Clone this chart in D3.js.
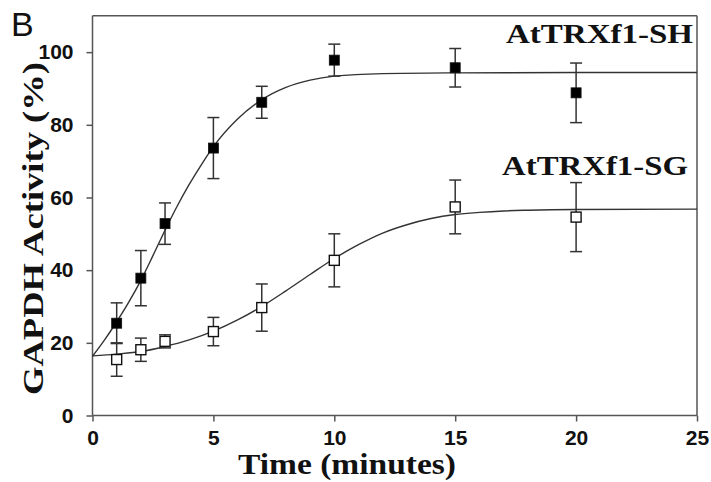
<!DOCTYPE html>
<html>
<head>
<meta charset="utf-8">
<script src="https://cdn.jsdelivr.net/npm/d3@7"></script>
<style>
  html, body { margin: 0; padding: 0; background: #fff; }
  svg { display: block; }
</style>
</head>
<body>
<div id="chart"></div>
<script>
// ---- Data ----
const times = [1, 2, 3, 5, 7, 10, 15, 20];
const shMean = [25.4, 37.8, 52.8, 73.6, 86.2, 97.8, 95.7, 88.8];
const shErr  = [5.6, 7.6, 5.7, 8.4, 4.4, 4.4, 5.3, 8.2];
const sgMean = [15.4, 18.1, 20.4, 23.1, 29.7, 42.7, 57.4, 54.6];
const sgErr  = [4.6, 3.2, 1.8, 3.9, 6.5, 7.3, 7.4, 9.5];

// fitted curves
const shCurveT = [0, 0.5, 1, 1.5, 2, 2.5, 3, 3.5, 4, 4.5, 5, 6, 7, 8, 9, 10, 12, 15, 20, 25];
const shCurveY = [16.3, 20.8, 25.8, 31.2, 37.2, 44, 51, 57.6, 63.6, 69, 74, 81.6, 86.9, 90.3, 92.3, 93.4, 94.1, 94.3, 94.4, 94.4];
const sgCurveT = [0, 1, 2, 3, 4, 5, 6, 7, 8, 9, 10, 11, 12, 13, 14, 15, 16, 17, 18, 20, 25];
const sgCurveY = [16.4, 16.9, 17.6, 19, 20.8, 23.2, 26.3, 30, 34.3, 38.8, 43.2, 47, 50.2, 52.5, 54.2, 55.3, 55.9, 56.3, 56.5, 56.7, 56.8];

const xTicks = [0, 5, 10, 15, 20, 25];
const yTicks = [0, 20, 40, 60, 80, 100];

const xTitle = "Time (minutes)";
const yTitle = "GAPDH Activity (%)";
const shLabel = "AtTRXf1-SH";
const sgLabel = "AtTRXf1-SG";
const panelLabel = "B";

// ---- Layout ----
const W = 711, H = 482;
const svg = d3.select("#chart").append("svg").attr("width", W).attr("height", H);

const x = d3.scaleLinear().domain([0, 25]).range([92.5, 697]);
const y = d3.scaleLinear().domain([0, 110]).range([415.5, 15.8]);

const axisColor = "#555";
const inkColor = "#111";

// frame top and right
svg.append("line").attr("x1", x(0)).attr("x2", x(25)).attr("y1", y(110)).attr("y2", y(110))
  .attr("stroke", axisColor).attr("stroke-width", 1.5);
svg.append("line").attr("x1", x(25)).attr("x2", x(25)).attr("y1", y(110)).attr("y2", y(0))
  .attr("stroke", axisColor).attr("stroke-width", 1.5);

// axes
const gx = svg.append("g").attr("transform", `translate(0,${y(0)})`)
  .call(d3.axisBottom(x).tickValues(xTicks).tickSize(6).tickPadding(9).tickSizeOuter(0));
const gy = svg.append("g").attr("transform", `translate(${x(0)},0)`)
  .call(d3.axisLeft(y).tickValues(yTicks).tickSize(6).tickPadding(13).tickSizeOuter(0));

[gx, gy].forEach(g => {
  g.select(".domain").attr("stroke", axisColor).attr("stroke-width", 1.5);
  g.selectAll(".tick line").attr("stroke", axisColor).attr("stroke-width", 1.5);
  g.selectAll(".tick text")
    .attr("fill", inkColor)
    .style("font-family", "'Liberation Sans', Arial, sans-serif")
    .style("font-weight", "bold")
    .style("font-size", "21px");
});
gy.select(".domain").attr("d", `M0,${y(0)}V${y(110)}`);
gx.select(".domain").attr("d", `M0,0H${x(25) - x(0)}`).attr("transform", `translate(${x(0)},0)`);

// curves
const line = d3.line().x(d => x(d[0])).y(d => y(d[1])).curve(d3.curveMonotoneX);
svg.append("path").datum(d3.zip(shCurveT, shCurveY)).attr("d", line)
  .attr("fill", "none").attr("stroke", "#333").attr("stroke-width", 1.4);
svg.append("path").datum(d3.zip(sgCurveT, sgCurveY)).attr("d", line)
  .attr("fill", "none").attr("stroke", "#333").attr("stroke-width", 1.4);

// error bars + markers
function drawSeries(means, errs, filled) {
  const data = times.map((t, i) => ({ t, m: means[i], e: errs[i] }));
  const g = svg.append("g");
  const cap = 6;
  data.forEach(d => {
    const cx = x(d.t);
    g.append("line").attr("x1", cx).attr("x2", cx).attr("y1", y(d.m + d.e)).attr("y2", y(d.m - d.e))
      .attr("stroke", "#333").attr("stroke-width", 1.5);
    g.append("line").attr("x1", cx - cap).attr("x2", cx + cap).attr("y1", y(d.m + d.e)).attr("y2", y(d.m + d.e))
      .attr("stroke", "#333").attr("stroke-width", 1.5);
    g.append("line").attr("x1", cx - cap).attr("x2", cx + cap).attr("y1", y(d.m - d.e)).attr("y2", y(d.m - d.e))
      .attr("stroke", "#333").attr("stroke-width", 1.5);
  });
  const s = 10;
  g.selectAll("rect").data(data).enter().append("rect")
    .attr("x", d => x(d.t) - s / 2).attr("y", d => y(d.m) - s / 2)
    .attr("width", s).attr("height", s)
    .attr("fill", filled ? "#000" : "#fff")
    .attr("stroke", "#111").attr("stroke-width", filled ? 0.8 : 1.4);
}
drawSeries(sgMean, sgErr, false);
drawSeries(shMean, shErr, true);

// series labels
const serif = "'Liberation Serif', 'Times New Roman', serif";
svg.append("text").text(shLabel).attr("x", 506).attr("y", 43)
  .attr("textLength", 187).attr("lengthAdjust", "spacingAndGlyphs")
  .style("font-family", serif).style("font-weight", "bold").style("font-size", "27px").attr("fill", inkColor);
svg.append("text").text(sgLabel).attr("x", 502).attr("y", 175)
  .attr("textLength", 186).attr("lengthAdjust", "spacingAndGlyphs")
  .style("font-family", serif).style("font-weight", "bold").style("font-size", "27px").attr("fill", inkColor);

// axis titles
svg.append("text").text(xTitle).attr("x", 238).attr("y", 474)
  .attr("textLength", 218).attr("lengthAdjust", "spacingAndGlyphs")
  .style("font-family", serif).style("font-weight", "bold").style("font-size", "29px").attr("fill", inkColor);
svg.append("text").text(yTitle)
  .attr("transform", "translate(43,395) rotate(-90)")
  .attr("x", 0).attr("y", 0)
  .attr("textLength", 333).attr("lengthAdjust", "spacingAndGlyphs")
  .style("font-family", serif).style("font-weight", "bold").style("font-size", "29px").attr("fill", inkColor);

// panel label
svg.append("text").text(panelLabel).attr("x", 11).attr("y", 36)
  .style("font-family", "'Liberation Sans', Arial, sans-serif").style("font-size", "34px").attr("fill", inkColor);
</script>
</body>
</html>
